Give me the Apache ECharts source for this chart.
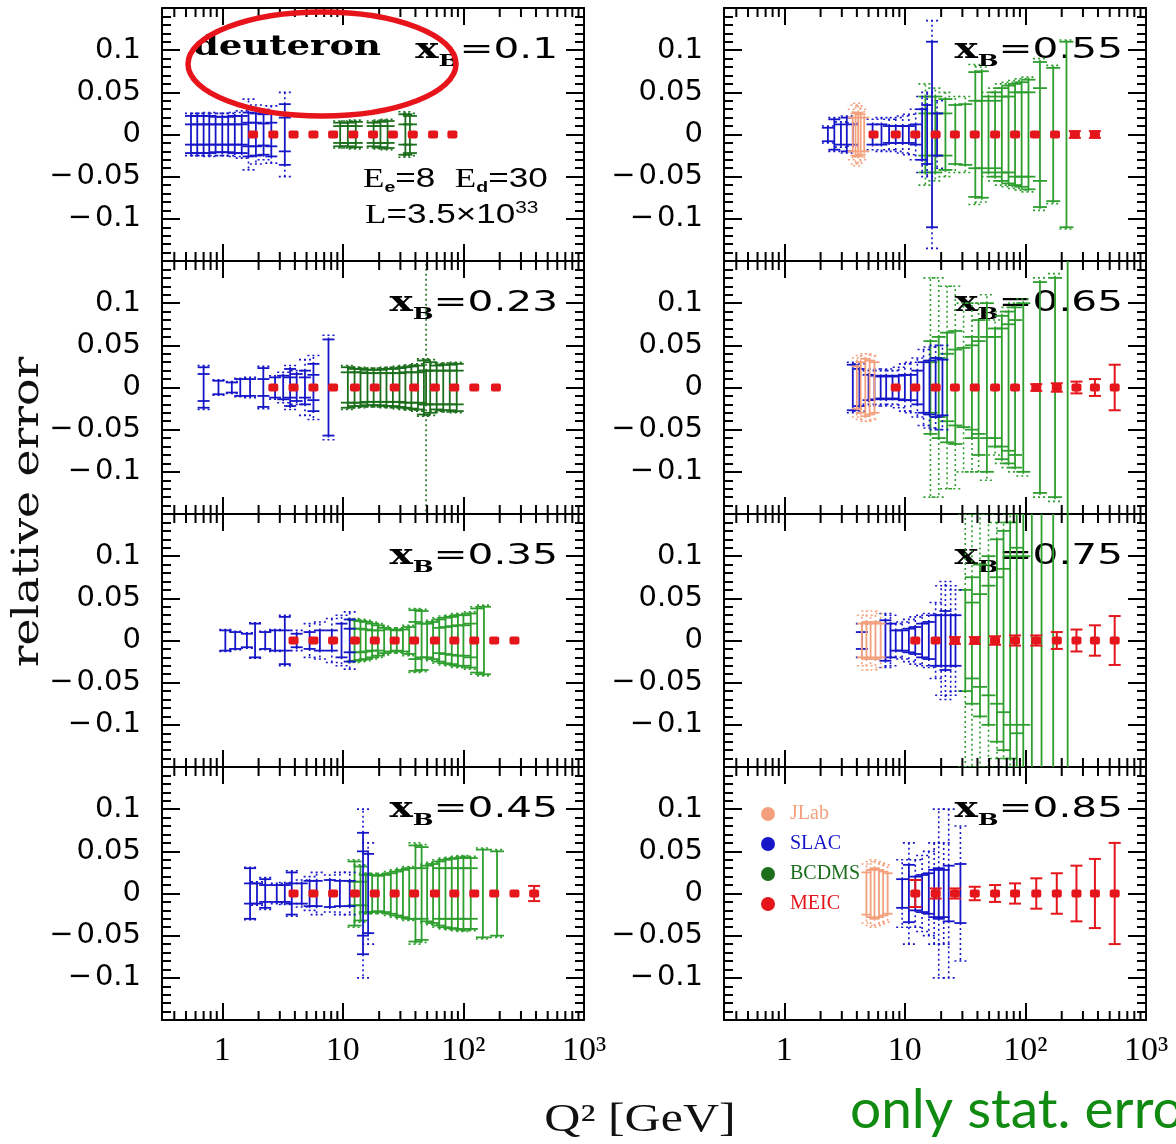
<!DOCTYPE html>
<html><head><meta charset="utf-8">
<script src="https://cdn.jsdelivr.net/npm/echarts@6/dist/echarts.min.js"></script>
<style>html,body{margin:0;padding:0;background:#fff}#c{width:1176px;height:1144px}</style>
</head><body><div id="c"></div>
<script>
// ---------------- data ----------------
const xbLabels = ['0.1', '0.23', '0.35', '0.45', '0.55', '0.65', '0.75', '0.85'];
const q2TickLabels = ['1', '10', '10²', '10³'];          // at 10^0 .. 10^3
const yTickVals = [-0.1, -0.05, 0, 0.05, 0.1];
const yTickText = ['\u2212\u200A0.1', '\u2212\u200A0.05', '0', '0.05', '0.1'];
const minorQ2 = [0.4,0.5,0.6,0.7,0.8,0.9, 2,3,4,5,6,7,8,9, 20,30,40,50,60,70,80,90, 200,300,400,500,600,700,800,900];

// [Q2, error (solid), error (dotted), inner cap (optional)]
const slac010 = [[0.55,0.022,0.025,0.012],[0.62,0.022,0.025,0.012],[0.70,0.022,0.025,0.012],[0.78,0.022,0.026,0.012],[0.88,0.021,0.025,0.012],[1.0,0.021,0.025,0.012],[1.12,0.021,0.025,0.012],[1.27,0.022,0.026,0.012],[1.45,0.022,0.028,0.012],[1.65,0.026,0.042,0.014],[1.9,0.025,0.035,0.014],[2.2,0.024,0.03,0.013],[2.55,0.026,0.034,0.014],[3.3,0.036,0.05,0.02]];
const bcdms010 = [[9.5,0.014,0.016,0.01],[11,0.014,0.016,0.01],[12.8,0.015,0.017,0.01],[18,0.014,0.016,0.01],[20.5,0.015,0.017,0.01],[23.5,0.016,0.018,0.01],[33,0.024,0.027,0.012],[36,0.022,0.025,0.012]];
const meic010 = [[1.8,0.002],[2.65,0.002],[3.9,0.002],[5.7,0.002],[8.3,0.002],[12.2,0.002],[17.8,0.002],[26,0.002],[38,0.002],[56,0.002],[81,0.002]];

const slac023 = [[0.70,0.024,0.026,0.016],[0.93,0.008,0.009],[1.2,0.006,0.007],[1.41,0.01,0.011],[1.70,0.01,0.012],[2.19,0.023,0.025,0.01],[2.74,0.012,0.014],[3.2,0.014,0.018],[3.65,0.022,0.026,0.012],[4.14,0.016,0.02],[4.85,0.02,0.033,0.012],[5.7,0.028,0.038,0.015],[7.6,0.057,0.062]];
const bcdms023 = [[11,0.024,0.026,0.018],[12.5,0.022,0.024,0.018],[14,0.022,0.024,0.018],[16,0.021,0.023,0.017],[18,0.021,0.023,0.017],[20.5,0.021,0.023,0.017],[23,0.022,0.024,0.017],[26,0.022,0.024,0.017],[29.5,0.023,0.025,0.017],[33,0.024,0.026,0.018],[37,0.025,0.027,0.018],[42,0.026,0.028,0.018],[47,0.032,0.034,0.02],[49,0.02,0.3],[53,0.03,0.033,0.02],[60,0.026,0.028,0.02],[68,0.027,0.029,0.02],[77,0.027,0.029,0.02],[88,0.028,0.03,0.02]];
const meic023 = [[2.65,0.002],[3.9,0.002],[5.7,0.002],[8.3,0.002],[12.6,0.002],[18.4,0.002],[26.9,0.002],[39,0.002],[58,0.002],[84,0.002],[123,0.002],[186,0.002]];

const slac035 = [[1.06,0.012,0.013],[1.28,0.01,0.011],[1.6,0.008,0.009],[1.87,0.02,0.021],[2.27,0.01,0.011],[2.74,0.012,0.013],[3.3,0.028,0.03,0.012],[4.14,0.008,0.012],[5.3,0.01,0.02],[6.45,0.012,0.022],[8.1,0.012,0.026],[9.75,0.02,0.03],[11.4,0.025,0.034,0.014]];
const bcdms035 = [[12.5,0.024,0.026,0.014],[14,0.023,0.025,0.014],[15.5,0.022,0.024,0.013],[17.5,0.02,0.022,0.012],[19.5,0.018,0.02,0.012],[22,0.015,0.017],[25,0.013,0.015],[28,0.012,0.014],[31.5,0.013,0.015],[35.5,0.016,0.018],[40,0.036,0.038,0.022],[45,0.035,0.037,0.02],[50,0.02,0.022],[56,0.022,0.024],[63,0.025,0.027,0.015],[71,0.027,0.029,0.016],[80,0.028,0.03,0.017],[90,0.03,0.032,0.018],[100,0.03,0.032,0.018],[115,0.032,0.034,0.02],[130,0.038,0.04],[148,0.04,0.042]];
const meic035 = [[3.9,0.002],[5.7,0.002],[8.3,0.002],[12.6,0.002],[18.4,0.002],[26.9,0.002],[39,0.002],[58,0.002],[84,0.002],[123,0.002],[180,0.002],[265,0.003]];

const slac045 = [[1.7,0.03,0.031,0.012],[1.94,0.012,0.014],[2.27,0.017,0.019,0.01],[2.83,0.01,0.012],[3.3,0.01,0.013],[3.77,0.025,0.027,0.012],[4.56,0.012,0.016],[5.3,0.015,0.02],[6.06,0.015,0.025],[7.8,0.016,0.022],[9.45,0.015,0.025],[11.4,0.015,0.025],[14.7,0.072,0.1,0.05],[16.2,0.047,0.06]];
const bcdms045 = [[12.5,0.038,0.04,0.014],[14,0.032,0.034,0.014],[15.5,0.022,0.024],[17.5,0.022,0.024],[19.5,0.021,0.023],[22,0.022,0.024],[25,0.024,0.026],[28,0.026,0.028],[31.5,0.028,0.03],[35.5,0.03,0.032],[40,0.057,0.06,0.03],[45,0.055,0.058,0.03],[50,0.033,0.035],[56,0.035,0.037],[63,0.038,0.04,0.03],[71,0.04,0.042,0.03],[80,0.041,0.043,0.03],[90,0.042,0.044,0.03],[100,0.043,0.045,0.03],[115,0.042,0.044,0.03],[145,0.052,0.054],[190,0.05,0.052]];
const meic045 = [[3.9,0.002],[5.7,0.002],[8.3,0.002],[12.6,0.002],[18.4,0.002],[26.9,0.002],[39,0.002],[58,0.002],[84,0.002],[123,0.002],[180,0.002],[265,0.003],[386,0.009]];

const jlab055 = [[3.7,0.02,0.03],[3.9,0.025,0.035],[4.1,0.026,0.037],[4.3,0.024,0.034],[4.6,0.02,0.03]];
const slac055 = [[2.3,0.008,0.01],[2.6,0.018,0.02],[2.95,0.012,0.015],[3.3,0.02,0.022],[3.7,0.012,0.014],[5.4,0.012,0.018],[6.4,0.012,0.02],[7.4,0.01,0.018],[8.4,0.01,0.02],[9.6,0.01,0.022],[10.8,0.01,0.024],[12.3,0.012,0.03],[13.9,0.03,0.045],[15.3,0.035,0.05],[16.8,0.11,0.135],[18.5,0.025,0.04]];
const bcdms055 = [[14.8,0.045,0.06,0.025],[17.9,0.045,0.055,0.025],[21.7,0.042,0.05,0.025],[26.2,0.035,0.045],[31.7,0.036,0.045],[38.4,0.074,0.083,0.04],[43.5,0.075,0.08,0.04],[49.4,0.045,0.05],[56,0.05,0.055,0.04],[63.7,0.055,0.06,0.045],[72.4,0.058,0.062,0.045],[82,0.06,0.064,0.05],[93,0.062,0.066,0.05],[106,0.065,0.068,0.05],[132,0.086,0.09,0.055],[170,0.079,0.082],[219,0.11,0.112]];
const meic055 = [[5.5,0.002],[8.4,0.002],[12.2,0.002],[18,0.002],[26,0.002],[38,0.002],[56,0.002],[82,0.002],[120,0.003],[176,0.003],[257,0.004],[377,0.004]];

const jlab065 = [[4.0,0.025,0.035],[4.3,0.03,0.038],[4.7,0.034,0.04],[5.1,0.032,0.04],[5.6,0.03,0.038]];
const slac065 = [[3.7,0.027,0.03],[4.2,0.022,0.028],[5.0,0.015,0.02],[5.6,0.014,0.022],[6.3,0.013,0.02],[7.0,0.014,0.022],[7.9,0.013,0.02],[8.9,0.014,0.024],[10,0.015,0.028],[11.2,0.015,0.03],[12.7,0.02,0.035],[14.3,0.03,0.045],[16,0.032,0.048],[18,0.035,0.05],[20.5,0.033,0.05]];
const bcdms065 = [[16.3,0.055,0.13,0.03],[19.1,0.06,0.13,0.035],[22.4,0.065,0.12,0.04],[26.2,0.067,0.12,0.045],[30.7,0.047,0.1],[36,0.06,0.1,0.05],[40.9,0.08,0.1,0.055],[47.9,0.1,0.11,0.06],[56,0.07,0.08,0.06],[63.7,0.085,0.09,0.07],[72.4,0.09,0.095,0.075],[82,0.095,0.1,0.08],[96,0.1,0.105],[132,0.125,0.13],[176,0.13,0.135],[224,0.3,0.3]];
const meic065 = [[8.4,0.002],[12.2,0.002],[18,0.002],[26,0.002],[38,0.003],[56,0.003],[82,0.003],[123,0.004],[182,0.005],[265,0.007],[377,0.01],[550,0.027]];

const jlab075 = [[4.4,0.02,0.03],[4.8,0.022,0.035],[5.2,0.02,0.03],[5.7,0.022,0.035],[6.3,0.02,0.032]];
const slac075 = [[4.4,0.01,0.02],[6.9,0.024,0.032],[7.6,0.02,0.03],[8.4,0.012,0.02],[9.5,0.012,0.022],[10.8,0.014,0.025],[12.2,0.016,0.028],[13.9,0.02,0.03],[15.8,0.022,0.032],[18,0.03,0.045],[20,0.03,0.065],[21.7,0.035,0.07],[24,0.03,0.065],[26.3,0.03,0.06]];
const bcdms075 = [[31.7,0.06,0.15],[36,0.075,0.15,0.045],[42,0.09,0.15,0.055],[49.4,0.1,0.15,0.065],[58,0.12,0.14,0.075],[65.8,0.13,0.14,0.085],[74.7,0.14,0.15,0.1],[84.7,0.15,0.16,0.11],[96,0.2,0.2,0.1],[113,0.2,0.2],[136,0.2,0.2],[170,0.25,0.25],[224,0.3,0.3]];
const meic075 = [[12.2,0.003],[18,0.003],[26,0.004],[38,0.004],[56,0.005],[82,0.006],[123,0.006],[182,0.01],[265,0.013],[377,0.018],[550,0.029]];

const jlab085 = [[4.8,0.025,0.035],[5.2,0.028,0.038],[5.6,0.03,0.04],[6.1,0.028,0.038],[6.6,0.026,0.036],[7.2,0.024,0.034]];
const slac085 = [[9.5,0.017,0.04],[10.8,0.034,0.06],[12.2,0.02,0.04],[13.9,0.022,0.045],[15.8,0.024,0.05],[17.5,0.028,0.06],[19.1,0.03,0.1],[21,0.028,0.06],[23.1,0.033,0.1],[28.9,0.035,0.08]];
const bcdms085 = [];
const meic085 = [[12.2,0.016],[18,0.006],[26,0.006],[38,0.008],[56,0.01],[82,0.012],[123,0.018],[182,0.024],[265,0.033],[377,0.041],[550,0.06]];

// ---------------- styling ----------------
const C = {slac:'#1616c8', jlab:'#f4a07c', bcdmsDark:'#1c6e1c', bcdms:'#2e9e2e', meic:'#e4151b', note:'#108a10'};
const panels = [
  {slac:slac010, bcdms:bcdms010, jlab:[], meic:meic010, g:C.bcdmsDark},
  {slac:slac023, bcdms:bcdms023, jlab:[], meic:meic023, g:C.bcdmsDark},
  {slac:slac035, bcdms:bcdms035, jlab:[], meic:meic035, g:C.bcdms},
  {slac:slac045, bcdms:bcdms045, jlab:[], meic:meic045, g:C.bcdms},
  {slac:slac055, bcdms:bcdms055, jlab:jlab055, meic:meic055, g:C.bcdms},
  {slac:slac065, bcdms:bcdms065, jlab:jlab065, meic:meic065, g:C.bcdms},
  {slac:slac075, bcdms:bcdms075, jlab:jlab075, meic:meic075, g:C.bcdms},
  {slac:slac085, bcdms:bcdms085, jlab:jlab085, meic:meic085, g:C.bcdms}
];

const LEFTS = [162, 724], W = 422, TOP0 = 8, H = 253;
const YMIN = -0.15, YMAX = 0.15;

function errRender(color, cap, lw) {
  return function (params, api) {
    const q = api.value(0), e = api.value(1), d = api.value(2), inner = api.value(3);
    const x = api.coord([q, 0])[0];
    const yt = api.coord([q, e])[1], yb = api.coord([q, -e])[1];
    const st = {stroke: color, lineWidth: lw};
    const ch = [
      {type:'line', shape:{x1:x, y1:yt, x2:x, y2:yb}, style:st},
      {type:'line', shape:{x1:x-cap, y1:yt, x2:x+cap, y2:yt}, style:st},
      {type:'line', shape:{x1:x-cap, y1:yb, x2:x+cap, y2:yb}, style:st}
    ];
    if (inner > 0) {
      const it = api.coord([q, inner])[1], ib = api.coord([q, -inner])[1];
      ch.push({type:'line', shape:{x1:x-cap, y1:it, x2:x+cap, y2:it}, style:st});
      ch.push({type:'line', shape:{x1:x-cap, y1:ib, x2:x+cap, y2:ib}, style:st});
    }
    if (d > e) {
      const dt = api.coord([q, d])[1], db = api.coord([q, -d])[1];
      const ds = {stroke: color, lineWidth: 1.6, lineDash: [2, 3]};
      ch.push({type:'line', shape:{x1:x, y1:yt, x2:x, y2:dt}, style:ds});
      ch.push({type:'line', shape:{x1:x, y1:yb, x2:x, y2:db}, style:ds});
      ch.push({type:'line', shape:{x1:x-cap, y1:dt, x2:x+cap, y2:dt}, style:ds});
      ch.push({type:'line', shape:{x1:x-cap, y1:db, x2:x+cap, y2:db}, style:ds});
    }
    return {type:'group', children: ch};
  };
}
function meicRender(params, api) {
  const q = api.value(0), e = api.value(1);
  const c = api.coord([q, 0]);
  const yt = api.coord([q, e])[1], yb = api.coord([q, -e])[1];
  const st = {stroke: C.meic, lineWidth: 2};
  const ch = [];
  if (e >= 0.004) {
    ch.push({type:'line', shape:{x1:c[0], y1:yt, x2:c[0], y2:yb}, style:st});
    ch.push({type:'line', shape:{x1:c[0]-6, y1:yt, x2:c[0]+6, y2:yt}, style:st});
    ch.push({type:'line', shape:{x1:c[0]-6, y1:yb, x2:c[0]+6, y2:yb}, style:st});
  }
  ch.push({type:'rect', shape:{x:c[0]-5, y:c[1]-4, width:10, height:8, r:2}, style:{fill: C.meic}});
  return {type:'group', children: ch};
}
function minorTickRender(params, api) {
  const v = api.value(0);
  const x = api.coord([v, 0])[0];
  const yb = api.coord([v, YMIN])[1], yt = api.coord([v, YMAX])[1];
  const st = {stroke:'#000', lineWidth: 2};
  return {type:'group', children:[
    {type:'line', shape:{x1:x, y1:yb, x2:x, y2:yb-9}, style:st},
    {type:'line', shape:{x1:x, y1:yt, x2:x, y2:yt+9}, style:st}
  ]};
}
function xLabel(v) {
  const l = Math.log10(v), r = Math.round(l);
  if (Math.abs(l - r) < 1e-6 && r >= 0 && r <= 3) return q2TickLabels[r];
  return '';
}
function yLabel(v) {
  for (let i = 0; i < yTickVals.length; i++) if (Math.abs(v - yTickVals[i]) < 1e-6) return yTickText[i];
  return '';
}

const option = {animation:false, backgroundColor:'#fff', grid:[], xAxis:[], yAxis:[], series:[], graphic:[]};
const dims = ['q','e','d','i'];

panels.forEach((p, i) => {
  const col = Math.floor(i / 4), row = i % 4;
  const left = LEFTS[col], top = TOP0 + H * row;
  option.grid.push({left: left, top: top, width: W, height: H});
  const axisLine = {show:true, onZero:false, lineStyle:{color:'#000', width:2}};
  const xBase = {type:'log', logBase:10, min:Math.pow(10, -0.5), max:1000, gridIndex:i,
    axisLine:axisLine, splitLine:{show:false},
    axisTick:{show:true, inside:true, length:17, lineStyle:{color:'#000', width:2}}};
  option.xAxis.push(Object.assign({}, xBase, {position:'bottom',
    axisLabel:{show: row === 3, formatter:xLabel, margin:14, color:'#000', fontFamily:'Liberation Serif', fontSize:34, showMinLabel:true, showMaxLabel:true, hideOverlap:false}}));
  option.xAxis.push(Object.assign({}, xBase, {position:'top', axisLabel:{show:false}}));
  const yBase = {type:'value', min:YMIN, max:YMAX, interval:0.05, gridIndex:i,
    axisLine:axisLine, splitLine:{show:false},
    axisTick:{show:true, inside:true, length:18, lineStyle:{color:'#000', width:2}},
    minorTick:{show:true, splitNumber:5, length:9, lineStyle:{color:'#000', width:2}}};
  option.yAxis.push(Object.assign({}, yBase, {position:'left',
    axisLabel:{show:true, formatter:yLabel, margin:21, color:'#000', fontFamily:'DejaVu Sans', fontSize:29, showMinLabel:true, showMaxLabel:true}}));
  option.yAxis.push(Object.assign({}, yBase, {position:'right', axisLabel:{show:false}}));
  const ax = {xAxisIndex: 2*i, yAxisIndex: 2*i, clip:true, dimensions:dims, encode:{x:0, y:1}};
  option.series.push(Object.assign({type:'custom', name:'BCDMS', data:p.bcdms, itemStyle:{color:p.g}, renderItem:errRender(p.g, 7, 1.8)}, ax));
  option.series.push(Object.assign({type:'custom', name:'SLAC', data:p.slac, itemStyle:{color:C.slac}, renderItem:errRender(C.slac, 6, 1.8)}, ax));
  option.series.push(Object.assign({type:'custom', name:'JLab', data:p.jlab, itemStyle:{color:C.jlab}, renderItem:errRender(C.jlab, 5, 1.8)}, ax));
  option.series.push(Object.assign({type:'custom', name:'MEIC', data:p.meic, itemStyle:{color:C.meic}, renderItem:meicRender}, ax, {dimensions:['q','e']}));
  option.series.push({type:'custom', xAxisIndex:2*i, yAxisIndex:2*i, clip:false, silent:true, z:5,
    data: minorQ2.map(v => [v, 0]), encode:{x:0, y:1}, renderItem:minorTickRender});

  // panel label  x_B = ...
  option.graphic.push({type:'text', z:0, x: col === 0 ? 558 : 1123, y: top + 43, scaleX: 1.45, originX: 0,
    style:{text:'{x|x}{b|B}{n|=' + xbLabels[i] + '}', align:'right', verticalAlign:'middle',
      rich:{
        x:{fontFamily:'DejaVu Serif', fontWeight:'bold', fontSize:27, fill:'#000'},
        b:{fontFamily:'DejaVu Serif', fontWeight:'bold', fontSize:17, fill:'#000', padding:[22,0,0,0]},
        n:{fontFamily:'DejaVu Sans', fontSize:28, fill:'#000'}
      }}});
});

option.legend = {orient:'vertical', left:756, top:799, itemWidth:34, itemHeight:14, itemGap:10, icon:'circle', selectedMode:false,
  textStyle:{fontFamily:'Liberation Serif', fontSize:20, lineHeight:20},
  data:[
    {name:'JLab', itemStyle:{color:C.jlab}, textStyle:{color:C.jlab}},
    {name:'SLAC', itemStyle:{color:C.slac}, textStyle:{color:C.slac}},
    {name:'BCDMS', itemStyle:{color:C.bcdmsDark}, textStyle:{color:C.bcdmsDark}},
    {name:'MEIC', itemStyle:{color:C.meic}, textStyle:{color:C.meic}}
  ]};

option.graphic.push(
  {type:'text', z:0, x:193, y:48, scaleX:1.37, style:{text:'deuteron', fontFamily:'DejaVu Serif', fontWeight:'bold', fontSize:27, fill:'#000', align:'left', verticalAlign:'middle'}},
  {type:'text', z:0, x:363, y:180, scaleX:1.3, style:{text:'{e|E}{s|e}{n|=8  }{e|E}{s|d}{n|=30}', align:'left', verticalAlign:'middle',
    rich:{e:{fontFamily:'Liberation Serif', fontSize:27, fill:'#000'}, s:{fontFamily:'Liberation Sans', fontWeight:'bold', fontSize:15, fill:'#000', padding:[16,0,0,0]}, n:{fontFamily:'Liberation Sans', fontSize:27, fill:'#000'}}}},
  {type:'text', z:0, x:365, y:216, scaleX:1.3, style:{text:'{e|L}{n|=3.5×10}{p|33}', align:'left', verticalAlign:'middle',
    rich:{e:{fontFamily:'Liberation Serif', fontSize:27, fill:'#000'}, n:{fontFamily:'Liberation Sans', fontSize:27, fill:'#000'}, p:{fontFamily:'Liberation Sans', fontSize:16, fill:'#000', padding:[0,0,14,0]}}}},
  {type:'text', z:0, x:28, y:512, rotation:Math.PI/2, scaleX:1.2, style:{text:'relative error', fontFamily:'DejaVu Serif', fontSize:38, fill:'#111', align:'center', verticalAlign:'middle'}},
  {type:'text', z:0, x:640, y:1120, scaleX:1.25, style:{text:'Q² [GeV]', fontFamily:'Liberation Serif', fontSize:40, fill:'#111', align:'center', verticalAlign:'middle'}},
  {type:'text', z:0, x:850, y:1110, style:{text:'only stat. errors', fontFamily:'Lato', fontSize:55, fill:C.note, align:'left', verticalAlign:'middle'}},
  {type:'ellipse', z:100, shape:{cx:322, cy:64, rx:134, ry:52}, style:{fill:'none', stroke:'#e8141b', lineWidth:5.5}}
);

const chart = echarts.init(document.getElementById('c'), null, {renderer:'canvas'});
chart.setOption(option);
</script></body></html>
